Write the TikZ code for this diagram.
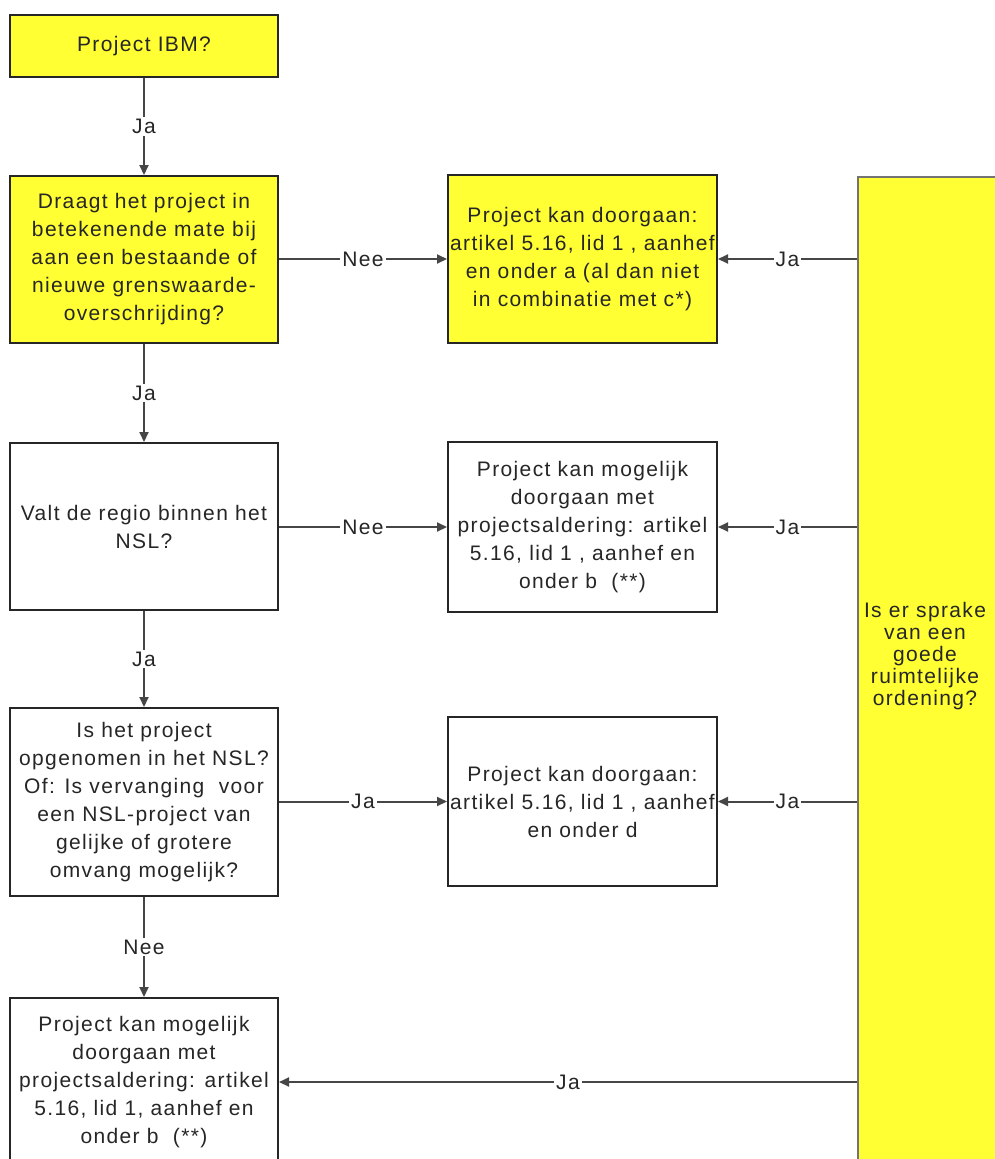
\documentclass[tikz,border=0pt]{standalone}
\usepackage{fontspec}
\setmainfont{Liberation Sans}[LetterSpace=6.5]
\usetikzlibrary{arrows.meta,calc}
\definecolor{boxyellow}{RGB}{255,255,51}
\definecolor{linegray}{RGB}{70,70,70}
\begin{document}
\begin{tikzpicture}[x=1pt,y=-1pt,
  every node/.style={font=\fontsize{21}{28}\selectfont, text=black!85},
  box/.style={draw=black!85, line width=2pt, align=center, inner sep=0pt},
  ybox/.style={box, fill=boxyellow},
  wbox/.style={box, fill=white},
  conn/.style={draw=linegray, line width=2pt, -{Triangle[length=10pt,width=9pt]}},
  lbl/.style={fill=white, inner sep=2pt, font=\fontsize{21}{22}\selectfont}]
\clip (0,0) rectangle (995,1159);
\fill[white] (0,0) rectangle (995,1159);
% left column
\node[ybox, minimum width=268, minimum height=62] (b1) at (144,46) {Project IBM?};
\node[ybox, minimum width=268, minimum height=167] (b2) at (144,259.5)
  {Draagt het project in\\betekenende mate bij\\aan een bestaande of\\nieuwe grenswaarde-\\overschrijding?};
\node[wbox, minimum width=268, minimum height=167] (b5) at (144,526.5)
  {Valt de regio binnen het\\NSL?};
\node[wbox, minimum width=268, minimum height=188] (b7) at (144,802)
  {Is het project\\opgenomen in het NSL?\\Of: Is vervanging\ \ voor\\een NSL-project van\\gelijke of grotere\\omvang mogelijk?};
\node[wbox, minimum width=268, minimum height=168] (b9) at (144,1082)
  {Project kan mogelijk\\doorgaan met\\projectsaldering: artikel\\5.16, lid 1, aanhef en\\onder b\ \ (**)};
% middle column
\node[ybox, minimum width=269, minimum height=168] (b3) at (582.5,259)
  {Project kan doorgaan:\\artikel 5.16, lid 1 , aanhef\\en onder a (al dan niet\\in combinatie met c*)};
\node[wbox, minimum width=269, minimum height=170] (b6) at (582.5,527)
  {Project kan mogelijk\\doorgaan met\\projectsaldering: artikel\\5.16, lid 1 , aanhef en\\onder b\ \ (**)};
\node[wbox, minimum width=269, minimum height=169] (b8) at (582.5,801.5)
  {Project kan doorgaan:\\artikel 5.16, lid 1 , aanhef\\en onder d};
% right column
\node[box, fill=boxyellow, draw=black!55, minimum width=160, minimum height=1000, anchor=north west] (rq) at (857,176) {};
\node[align=center, font=\fontsize{21}{22}\selectfont] (rqt) at (925,656)
  {Is er sprake\\van een\\goede\\ruimtelijke\\ordening?};
% vertical connectors
\draw[conn] (b1) -- node[lbl]{Ja} (b2);
\draw[conn] (b2) -- node[lbl]{Ja} (b5);
\draw[conn] (b5) -- node[lbl]{Ja} (b7);
\draw[conn] (b7) -- node[lbl]{Nee} (b9);
% left-to-middle connectors
\draw[conn] (b2.east |- b3.west) -- node[lbl]{Nee} (b3.west);
\draw[conn] (b5.east |- b6.west) -- node[lbl]{Nee} (b6.west);
\draw[conn] (b7.east |- b8.west) -- node[lbl]{Ja} (b8.west);
% right-to-left connectors
\draw[conn] (rq.west |- b3.east) -- node[lbl]{Ja} (b3.east);
\draw[conn] (rq.west |- b6.east) -- node[lbl]{Ja} (b6.east);
\draw[conn] (rq.west |- b8.east) -- node[lbl]{Ja} (b8.east);
\draw[conn] (rq.west |- b9.east) -- node[lbl]{Ja} (b9.east);
\end{tikzpicture}
\end{document}
